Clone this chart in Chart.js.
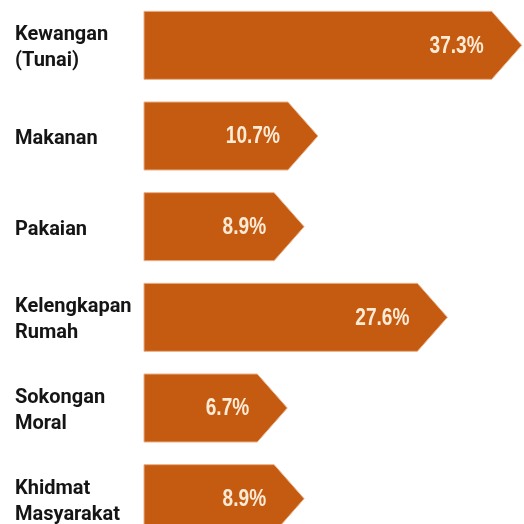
<!DOCTYPE html>
<html>
<head>
<meta charset="utf-8">
<script src="https://cdn.jsdelivr.net/npm/chart.js@4/dist/chart.umd.min.js"></script>
<style>
  html, body { margin: 0; padding: 0; background: #ffffff; overflow: hidden; }
  #wrap { width: 524px; height: 524px; overflow: hidden; position: relative; }
  canvas { display: block; }
</style>
</head>
<body>
<div id="wrap"><canvas id="c" width="524" height="544"></canvas></div>
<script>
// Categories (multi-line labels) and values (percent)
const categories = [
  ['Kewangan', '(Tunai)'],
  ['Makanan'],
  ['Pakaian'],
  ['Kelengkapan', 'Rumah'],
  ['Sokongan', 'Moral'],
  ['Khidmat', 'Masyarakat']
];
const values = [37.3, 10.7, 8.9, 27.6, 6.7, 8.9];
const valueLabels = ['37.3%', '10.7%', '8.9%', '27.6%', '6.7%', '8.9%'];

const BAR_COLOR = '#C55A11';
const AXIS_MIN = -12;

const arrowBars = {
  id: 'arrowBars',
  beforeDatasetDraw(chart, args) {
    return false; // skip default rectangles; drawn as arrows below
  },
  afterDatasetsDraw(chart) {
    const ctx = chart.ctx;
    const meta = chart.getDatasetMeta(0);
    const depth = 30;
    ctx.save();
    meta.data.forEach((el, i) => {
      const p = el.getProps(['x', 'y', 'base', 'height'], true);
      const h = p.height, top = p.y - h / 2, bot = p.y + h / 2;
      const tip = p.x, body = tip - depth;
      ctx.beginPath();
      ctx.moveTo(p.base, top);
      ctx.lineTo(body, top);
      ctx.lineTo(tip, p.y);
      ctx.lineTo(body, bot);
      ctx.lineTo(p.base, bot);
      ctx.closePath();
      ctx.fillStyle = BAR_COLOR;
      ctx.fill();
      ctx.lineWidth = 1;
      ctx.strokeStyle = '#eab088';
      ctx.stroke();

      ctx.save();
      ctx.fillStyle = '#fdebd6';
      ctx.font = 'bold 23px "Liberation Sans", Arial, sans-serif';
      ctx.textAlign = 'right';
      ctx.textBaseline = 'middle';
      ctx.translate(tip - 38, p.y + 1);
      ctx.scale(0.83, 1);
      ctx.fillText(valueLabels[i], 0, 0);
      ctx.restore();
    });
    ctx.restore();
  }
};

new Chart(document.getElementById('c'), {
  type: 'bar',
  data: {
    labels: categories,
    datasets: [{
      data: values,
      base: AXIS_MIN,
      backgroundColor: BAR_COLOR,
      categoryPercentage: 1.0,
      barPercentage: 0.75
    }]
  },
  options: {
    indexAxis: 'y',
    responsive: false,
    animation: false,
    devicePixelRatio: 1,
    layout: { padding: { left: 15, right: 0, top: 0, bottom: 0 } },
    plugins: { legend: { display: false }, tooltip: { enabled: false } },
    scales: {
      x: {
        display: false,
        min: AXIS_MIN,
        max: 37.6
      },
      y: {
        grid: { display: false, drawTicks: false },
        border: { display: false },
        ticks: {
          crossAlign: 'far',
          padding: 0,
          labelOffset: 3,
          color: '#151515',
          font: { family: 'Roboto, "Liberation Sans", Arial, sans-serif', size: 20, weight: 'bold', lineHeight: 1.3 }
        },
        afterFit(scale) {
          scale.width = 129;
          scale.paddingTop = 0;
          scale.paddingBottom = 0;
        }
      }
    }
  },
  plugins: [arrowBars]
});
</script>
</body>
</html>
